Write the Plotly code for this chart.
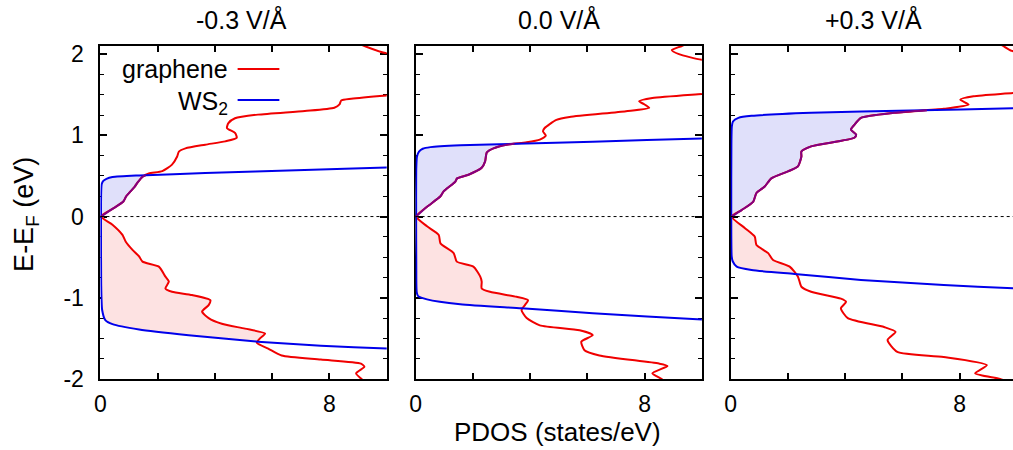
import numpy as np
import plotly.graph_objects as go

FIELDS = ["-0.3 V/Å", "0.0 V/Å", "+0.3 V/Å"]
SERIES = ["graphene", "WS<sub>2</sub>"]
X_TICKS = [0, 2, 4, 6, 8]
X_TICKTEXT = ["0", "", "", "", "8"]
Y_TICKS = [-2, -1, 0, 1, 2]
Y_TICKTEXT = ["-2", "-1", "0", "1", "2"]

# ---- panel 1 (-0.3 V/A) ----
G1_E = [-2.05, -1.995, -1.93, -1.85, -1.81, -1.76, -1.71, -1.625, -1.555, -1.50, -1.44, -1.38, -1.32,
        -1.25, -1.17, -1.09, -1.03, -0.967, -0.926, -0.885, -0.80, -0.74, -0.617, -0.555, -0.49, -0.41,
        -0.31, -0.226, -0.10, 0.0, 0.10, 0.185, 0.25, 0.31, 0.37, 0.42, 0.49, 0.53, 0.56, 0.64, 0.74,
        0.80, 0.84, 0.885, 0.926, 0.97, 1.03, 1.09, 1.15, 1.21, 1.255, 1.30, 1.34, 1.38, 1.43, 1.45,
        1.49, 1.53, 1.97, 2.01, 2.10, 2.15]
G1_X = [9.3, 9.1, 8.93, 9.22, 9.1, 7.7, 6.33, 5.86, 5.46, 5.57, 5.75, 5.05, 4.24,
        3.78, 3.55, 3.78, 3.84, 3.2, 2.5, 2.27, 2.39, 2.27, 2.04, 1.47, 1.35, 1.12,
        0.885, 0.77, 0.42, 0.02, 0.45, 0.8, 0.9, 1.05, 1.2, 1.3, 1.47, 1.69, 2.16, 2.5, 2.68,
        2.74, 2.97, 3.66, 4.36, 4.76, 4.7, 4.42, 4.47, 4.7, 5.5, 7.14, 8.17, 8.35, 8.41, 8.76,
        10.0, 11.5, 11.5, 10.0, 9.22, 8.9]
W1_E = [-1.65, -1.625, -1.59, -1.54, -1.46, -1.39, -1.325, -1.275, -1.15, -0.82, 0.0,
        0.30, 0.40, 0.44, 0.465, 0.486, 0.506, 0.535, 0.573, 0.605, 0.625]
W1_X = [12.0, 10.0, 7.7, 5.5, 3.08, 1.35, 0.42, 0.17, 0.06, 0.025, 0.02,
        0.025, 0.045, 0.1, 0.21, 0.42, 1.35, 3.66, 7.13, 10.0, 12.0]

# ---- panel 2 (0.0 V/A) ----
G2_E = [-2.05, -1.995, -1.93, -1.84, -1.81, -1.71, -1.645, -1.54, -1.46, -1.40, -1.34, -1.25, -1.15,
        -1.09, -1.03, -0.988, -0.926, -0.885, -0.80, -0.74, -0.617, -0.555, -0.45, -0.33, -0.226,
        -0.12, 0.0, 0.12, 0.25, 0.31, 0.43, 0.47, 0.515, 0.60, 0.68, 0.79, 0.84, 0.885, 0.914, 0.947,
        0.996, 1.05, 1.09, 1.19, 1.227, 1.297, 1.34, 1.38, 1.42, 1.46, 1.51, 1.55, 1.88, 1.93, 2.0,
        2.05, 2.10, 2.15]
G2_X = [8.8, 8.57, 8.27, 8.8, 8.5, 6.42, 5.9, 5.79, 6.19, 5.73, 4.34, 3.88, 3.7,
        3.82, 3.93, 3.53, 2.6, 2.31, 2.31, 2.26, 2.02, 1.44, 1.33, 0.87, 0.81,
        0.4, 0.02, 0.4, 0.87, 0.98, 1.39, 1.45, 1.85, 2.31, 2.43, 2.49, 2.72, 3.18, 3.88, 4.34,
        4.55, 4.45, 4.51, 4.92, 5.38, 7.35, 8.16, 8.0, 7.81, 8.27, 10.0, 11.5, 11.5, 10.0, 9.2,
        8.95, 9.3, 9.6]
W2_E = [-1.29, -1.267, -1.19, -1.13, -1.08, -1.02, -0.98, -0.93, -0.6, 0.0,
        0.6, 0.74, 0.80, 0.835, 0.855, 0.877, 0.897, 0.922, 0.961, 0.98]
W2_X = [12.0, 10.0, 6.19, 3.7, 1.56, 0.4, 0.09, 0.04, 0.025, 0.02,
        0.025, 0.05, 0.12, 0.25, 0.52, 1.56, 3.53, 6.19, 10.0, 12.0]

# ---- panel 3 (+0.3 V/A) ----
G3_E = [-2.05, -2.0, -1.93, -1.83, -1.73, -1.667, -1.52, -1.42, -1.36, -1.25, -1.13, -1.05, -1.01,
        -0.926, -0.864, -0.74, -0.617, -0.535, -0.45, -0.35, -0.247, -0.143, 0.0, 0.08, 0.185, 0.29,
        0.37, 0.47, 0.556, 0.617, 0.74, 0.80, 0.864, 0.97, 1.01, 1.07, 1.13, 1.215, 1.277, 1.326,
        1.379, 1.44, 1.48, 1.52, 1.56, 1.98, 2.04, 2.10, 2.15]
G3_X = [9.8, 9.41, 8.54, 8.95, 7.44, 5.82, 5.48, 5.76, 5.36, 4.09, 3.85, 4.03, 3.85,
        2.81, 2.47, 2.35, 2.06, 1.48, 1.31, 0.9, 0.84, 0.5, 0.03, 0.38, 0.79, 0.9,
        1.19, 1.42, 2.0, 2.35, 2.47, 2.47, 2.81, 4.32, 4.38, 4.2, 4.32, 4.55, 5.7, 7.44,
        8.31, 8.02, 8.48, 9.86, 11.0, 11.0, 9.82, 9.52, 9.3]
W3_E = [-0.90, -0.884, -0.843, -0.78, -0.707, -0.658, -0.617, -0.55, -0.49, 0.0,
        0.9, 1.11, 1.17, 1.215, 1.24, 1.277, 1.305, 1.333, 1.35]
W3_X = [12.0, 9.86, 7.44, 4.55, 2.23, 0.73, 0.21, 0.07, 0.035, 0.02,
        0.025, 0.04, 0.08, 0.27, 0.73, 2.81, 6.28, 9.86, 12.0]

PANELS = [(G1_E, G1_X, W1_E, W1_X), (G2_E, G2_X, W2_E, W2_X), (G3_E, G3_X, W3_E, W3_X)]

RED = "rgb(240,0,0)"
BLUE = "rgb(0,0,235)"
PURPLE = "rgb(130,0,130)"
RED_FILL = "rgb(253,226,226)"
BLUE_FILL = "rgb(224,224,250)"
FONT = "Liberation Sans, Arial, sans-serif"

W = 1013
DOMAINS = [(95 / W, 383 / W), (412 / W, 700 / W), (729 / W, 1.0)]
XRANGES = [[0, 10], [0, 10], [0, 284 / 28.8]]


def crossing(Eg, Xg, Ew, Xw, side):
    grid = np.linspace(0.05, 2.1, 4101) * side
    gi = np.interp(grid, Eg, Xg)
    wi = np.interp(grid, Ew, Xw)
    idx = int(np.argmax(wi >= gi))
    return grid[idx], gi[idx]


fig = go.Figure()
for i, (Eg, Xg, Ew, Xw) in enumerate(PANELS):
    xa = "x" if i == 0 else f"x{i + 1}"
    ya = "y" if i == 0 else f"y{i + 1}"
    Eg_a, Xg_a = np.array(Eg), np.array(Xg)
    Ew_a, Xw_a = np.array(Ew), np.array(Xw)
    segs = {}
    for side in (1, -1):
        Ec, xc = crossing(Eg, Xg, Ew, Xw, side)
        if side > 0:
            mg = (Eg_a >= 0) & (Eg_a < Ec)
            mw = (Ew_a >= 0) & (Ew_a < Ec)
            gE, gX = list(Eg_a[mg]), list(Xg_a[mg])
            wE, wX = list(Ew_a[mw][::-1]), list(Xw_a[mw][::-1])
        else:
            mg = (Eg_a <= 0) & (Eg_a > Ec)
            mw = (Ew_a <= 0) & (Ew_a > Ec)
            gE, gX = list(Eg_a[mg][::-1]), list(Xg_a[mg][::-1])
            wE, wX = list(Ew_a[mw]), list(Xw_a[mw])
        polyE = gE + [Ec] + wE
        polyX = gX + [xc] + wX
        fig.add_trace(go.Scatter(x=polyX, y=polyE, xaxis=xa, yaxis=ya, mode="lines",
                                 fill="toself", fillcolor=BLUE_FILL if side > 0 else RED_FILL,
                                 line=dict(width=0, shape="spline", smoothing=0.6),
                                 hoverinfo="skip", showlegend=False))
        segs[side] = (gE + [Ec], gX + [xc])
    fig.add_trace(go.Scatter(x=Xg, y=Eg, xaxis=xa, yaxis=ya, mode="lines",
                             line=dict(color=RED, width=2, shape="spline", smoothing=0.6),
                             name="graphene", showlegend=False))
    fig.add_trace(go.Scatter(x=Xw, y=Ew, xaxis=xa, yaxis=ya, mode="lines",
                             line=dict(color=BLUE, width=2, shape="spline", smoothing=0.6),
                             name="WS2", showlegend=False))
    pE, pX = segs[1]
    fig.add_trace(go.Scatter(x=pX, y=pE, xaxis=xa, yaxis=ya, mode="lines",
                             line=dict(color=PURPLE, width=2, shape="spline", smoothing=0.6),
                             hoverinfo="skip", showlegend=False))
    # zero line
    fig.add_shape(type="line", xref=f"{xa} domain", yref=ya, x0=0, x1=1, y0=0, y1=0,
                  line=dict(color="black", width=1, dash="dot"))

    axis_font = dict(family=FONT, size=23, color="black")
    fig.layout[("xaxis" if i == 0 else f"xaxis{i + 1}")] = dict(
        domain=list(DOMAINS[i]), range=XRANGES[i], anchor=ya,
        tickvals=X_TICKS, ticktext=X_TICKTEXT, ticks="inside", ticklen=6, tickwidth=1.5,
        tickcolor="black", showline=True, linecolor="black", linewidth=2, mirror="ticks",
        showgrid=False, zeroline=False, tickfont=axis_font, ticklabelstandoff=3,
        layer="below traces")
    fig.layout[("yaxis" if i == 0 else f"yaxis{i + 1}")] = dict(
        domain=[0, 1], range=[-2, 2.1], anchor=xa,
        tickvals=Y_TICKS, ticktext=Y_TICKTEXT, ticks="inside", ticklen=7, tickwidth=1.5,
        tickcolor="black", showticklabels=(i == 0),
        minor=dict(dtick=0.25, tick0=0, ticks="inside", ticklen=4, tickwidth=1.2, tickcolor="black"),
        showline=True, linecolor="black", linewidth=2,
        mirror=("ticks" if i < 2 else False),
        showgrid=False, zeroline=False, tickfont=axis_font, ticklabelstandoff=10,
        layer="below traces")

# subplot titles
title_x = [237 / W, 556 / W, 873 / W]
anns = []
for i, t in enumerate(FIELDS):
    anns.append(dict(text=t, x=title_x[i], y=(379 - 20) / 333, xref="paper", yref="paper",
                     xanchor="center", yanchor="middle", showarrow=False,
                     font=dict(family=FONT, size=25, color="black")))
anns.append(dict(text="PDOS (states/eV)", x=555 / W, y=(379 - 432) / 333, xref="paper", yref="paper",
                 xanchor="center", yanchor="middle", showarrow=False,
                 font=dict(family=FONT, size=26, color="black")))
anns.append(dict(text="E-E<sub>F</sub> (eV)", x=20 / W, y=(379 - 214) / 333, xref="paper", yref="paper",
                 xanchor="center", yanchor="middle", textangle=-90, showarrow=False,
                 font=dict(family=FONT, size=27, color="black")))
# legend (gnuplot style: text then sample line)
leg_y = [69, 100]
leg_col = [RED, BLUE]
leg_txt_y = [69, 103]
for k, name in enumerate(SERIES):
    anns.append(dict(text=name, x=225 / W, y=(379 - leg_txt_y[k]) / 333, xref="paper", yref="paper",
                     xanchor="right", yanchor="middle", showarrow=False,
                     font=dict(family=FONT, size=25, color="black")))
    fig.add_shape(type="line", xref="paper", yref="paper", x0=233 / W, x1=275 / W,
                  y0=(379 - leg_y[k]) / 333, y1=(379 - leg_y[k]) / 333,
                  line=dict(color=leg_col[k], width=2))

fig.update_layout(width=1013, height=450, margin=dict(l=0, r=0, t=46, b=71),
                  paper_bgcolor="white", plot_bgcolor="white", annotations=anns,
                  showlegend=False, font=dict(family=FONT, color="black"))
fig.write_html("out.html")
